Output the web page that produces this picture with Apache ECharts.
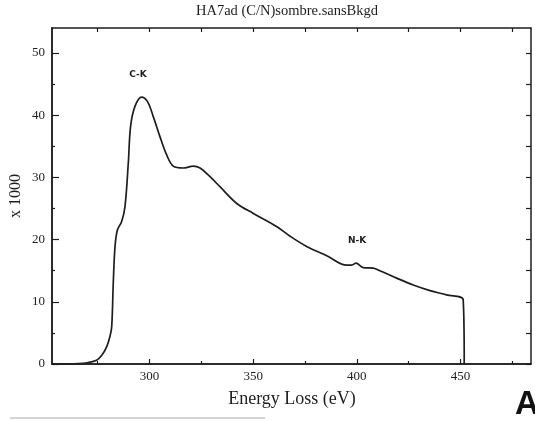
<!DOCTYPE html>
<html>
<head>
<meta charset="utf-8">
<script src="https://cdn.jsdelivr.net/npm/echarts@6/dist/echarts.min.js"></script>
<style>
html,body{margin:0;padding:0;background:#fff;}
#chart{width:535px;height:421px;}
</style>
</head>
<body>
<div id="chart"></div>
<script>
// Energy loss (eV) and intensity (x 1000)
var energy = [253, 260, 266, 270, 274.5, 277, 279.4, 281, 281.8, 282.6, 283.4, 284.5, 286.6, 288.2, 289.8, 290.9, 293, 296.2, 299, 301.8, 305.1, 308.3, 311.5, 316.3, 321.1, 324.4, 329.2, 334, 342.1, 350.1, 361.3, 368, 375.8, 385.5, 395.1, 397.5, 399.6, 403.1, 407.9, 411.1, 419.2, 427.2, 435.3, 443.3, 451.3, 451.8];
var intensity = [0, 0, 0.05, 0.2, 0.6, 1.4, 2.8, 4.5, 6.0, 13.5, 18.9, 21.5, 22.9, 25.3, 32.3, 38.2, 41.4, 42.9, 42.2, 39.8, 36.5, 33.6, 31.8, 31.5, 31.8, 31.5, 30.1, 28.5, 25.8, 24.2, 22.1, 20.5, 18.9, 17.4, 15.9, 15.9, 16.2, 15.5, 15.4, 15.0, 13.8, 12.7, 11.8, 11.1, 10.3, 0];

var xLabelValues = [300, 350, 400, 450];
var xMinorTicks = [275, 325, 375, 425, 475];
var xTopTicks = [275, 300, 325, 350, 375, 400, 425, 450, 475];
var yLabelValues = [0, 10, 20, 30, 40, 50];
var yMinorTicks = [5, 15, 25, 35, 45];
var yRightTicks = [0, 5, 10, 15, 20, 25, 30, 35, 40, 45, 50];

var titleText = 'HA7ad (C/N)sombre.sansBkgd';
var xName = 'Energy Loss (eV)';
var yName = 'x 1000';
var peakLabels = [{text: 'C-K', x: 138, y: 75}, {text: 'N-K', x: 357, y: 241}];

var X_MIN = 253, X_MAX = 484, Y_MIN = 0, Y_MAX = 54;
var ink = '#1e1e1e';
var serif = '"Liberation Serif", "DejaVu Serif", serif';

function xAx(pos, ticks, len, labels) {
  return {
    type: 'value', position: pos, min: X_MIN, max: X_MAX,
    axisLine: {show: true, onZero: false, lineStyle: {color: ink, width: 1.5}},
    axisTick: {show: true, inside: true, length: len, customValues: ticks, lineStyle: {color: ink, width: 1.2}},
    axisLabel: labels ? {show: true, customValues: labels, margin: 6, color: ink, fontFamily: serif, fontSize: 13} : {show: false},
    splitLine: {show: false}
  };
}
function yAx(pos, ticks, len, labels) {
  return {
    type: 'value', position: pos, min: Y_MIN, max: Y_MAX,
    axisLine: {show: true, onZero: false, lineStyle: {color: ink, width: 1.5}},
    axisTick: {show: true, inside: true, length: len, customValues: ticks, lineStyle: {color: ink, width: 1.2}},
    axisLabel: labels ? {show: true, customValues: labels, margin: 7, color: ink, fontFamily: serif, fontSize: 13} : {show: false},
    splitLine: {show: false}
  };
}

var chart = echarts.init(document.getElementById('chart'), null, {renderer: 'canvas'});
var graphics = [
  {type: 'text', x: 287, y: 11, style: {text: titleText, fill: ink, font: '14.5px ' + serif, align: 'center', verticalAlign: 'middle'}},
  {type: 'text', x: 292, y: 399, style: {text: xName, fill: ink, font: '18px ' + serif, align: 'center', verticalAlign: 'middle'}},
  {type: 'text', x: 16, y: 196, rotation: Math.PI / 2, style: {text: yName, fill: ink, font: '16px ' + serif, align: 'center', verticalAlign: 'middle'}},
  {type: 'text', x: 527, y: 405, style: {text: 'A', fill: '#111', font: 'bold 33px "Liberation Sans", Arial, sans-serif', align: 'center', verticalAlign: 'middle'}},
  {type: 'line', shape: {x1: 10, y1: 418, x2: 265, y2: 418}, style: {stroke: '#c4c4c4', lineWidth: 1.5}}
];
peakLabels.forEach(function (p) {
  graphics.push({type: 'text', x: p.x, y: p.y, style: {text: p.text, fill: ink, font: 'bold 9px "DejaVu Sans", sans-serif', align: 'center', verticalAlign: 'middle'}});
});

chart.setOption({
  backgroundColor: '#fff',
  animation: false,
  grid: {left: 52, right: 4, top: 28, bottom: 57, containLabel: false},
  xAxis: [
    xAx('bottom', xLabelValues, 5, xLabelValues),
    xAx('bottom', xMinorTicks, 3, null),
    xAx('top', xTopTicks, 4, null)
  ],
  yAxis: [
    yAx('left', yLabelValues, 7, yLabelValues),
    yAx('left', yMinorTicks, 3, null),
    yAx('right', yRightTicks, 5, null)
  ],
  series: [{
    type: 'line',
    xAxisIndex: 0, yAxisIndex: 0,
    data: energy.map(function (e, i) { return [e, intensity[i]]; }),
    showSymbol: false,
    smooth: 0.35,
    lineStyle: {color: ink, width: 1.7},
    clip: true
  }],
  graphic: graphics
});
</script>
</body>
</html>
